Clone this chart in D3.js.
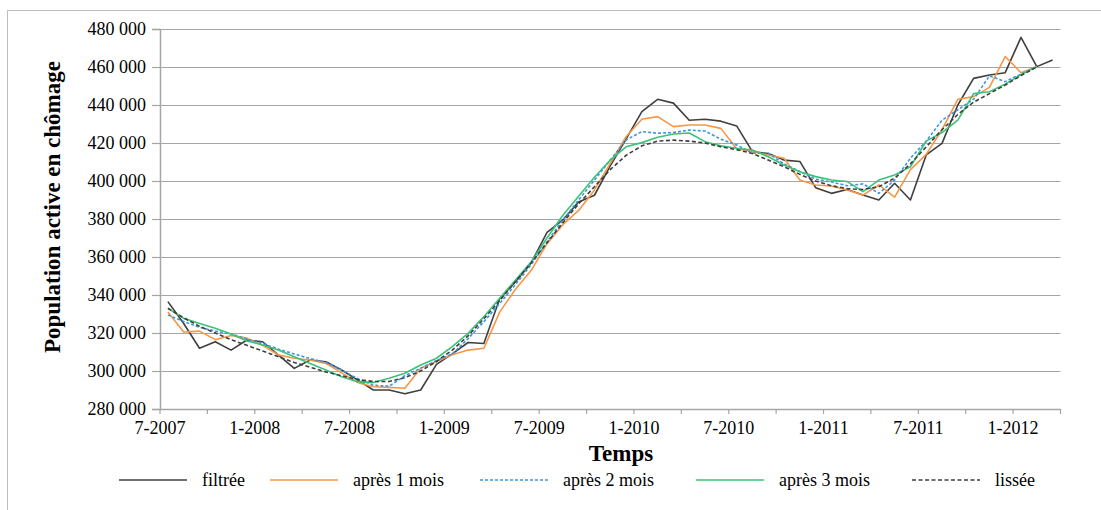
<!DOCTYPE html>
<html>
<head>
<meta charset="utf-8">
<script src="https://cdn.jsdelivr.net/npm/d3@7"></script>
<style>
  html, body { margin: 0; padding: 0; background: #ffffff; }
  svg { display: block; font-family: "Liberation Serif", "Times New Roman", serif; }
  svg text { font-family: "Liberation Serif", "Times New Roman", serif; }
</style>
</head>
<body>
<svg id="chart" width="1101" height="510"></svg>
<script>
// ---- Data ----
const months = [
  "7-2007","8-2007","9-2007","10-2007","11-2007","12-2007",
  "1-2008","2-2008","3-2008","4-2008","5-2008","6-2008",
  "7-2008","8-2008","9-2008","10-2008","11-2008","12-2008",
  "1-2009","2-2009","3-2009","4-2009","5-2009","6-2009",
  "7-2009","8-2009","9-2009","10-2009","11-2009","12-2009",
  "1-2010","2-2010","3-2010","4-2010","5-2010","6-2010",
  "7-2010","8-2010","9-2010","10-2010","11-2010","12-2010",
  "1-2011","2-2011","3-2011","4-2011","5-2011","6-2011",
  "7-2011","8-2011","9-2011","10-2011","11-2011","12-2011",
  "1-2012","2-2012","3-2012"
];
const xTickLabels = ["7-2007","1-2008","7-2008","1-2009","7-2009","1-2010","7-2010","1-2011","7-2011","1-2012"];
const yTicks = [280000,300000,320000,340000,360000,380000,400000,420000,440000,460000,480000];

const filtree = [336500,325000,312000,315400,311000,316300,315400,308400,301400,305800,304900,300500,
  295300,290000,290000,288000,290000,303500,309000,315000,314500,338000,347000,357000,
  373000,379500,389000,392500,408000,422000,436500,443000,441000,432000,432500,431500,
  429000,415500,414500,411000,410300,396500,393500,395500,392600,390000,398800,390000,
  413700,419800,440000,454000,455800,457000,475600,460200,463700];
const apres1 = [331000,320500,321000,316500,318700,317300,313500,308400,306700,305800,304000,299000,
  294000,291700,291400,290900,301400,305000,308500,311000,312000,331000,343000,353000,
  367000,377000,384500,395300,409300,423300,432500,433900,428600,429500,429500,427700,
  417000,415500,413700,412000,400500,397900,397400,395300,392600,397900,391500,406000,
  414000,427000,443000,444400,449300,465500,457000,460200];
const apres2 = [329500,326000,323000,321000,319500,316800,314500,311500,309000,306500,304500,300500,
  296000,292500,292000,297500,301500,305500,309000,317000,326000,335500,345500,356000,
  368000,379500,390000,400500,411000,421600,426000,425100,425500,426800,426300,422000,
  419000,414600,414600,409000,405000,401000,399500,397500,398500,393500,400500,412000,
  421000,432000,437500,443000,455300,452300,456300,460200];
const apres3 = [333000,327700,325000,322500,319500,315800,313700,311000,307500,304000,300500,297000,
  294400,293900,296200,298800,303200,306700,312800,319800,328600,338300,347900,357500,
  370000,382000,392000,402000,411000,418000,420200,423000,424700,425300,420700,418500,
  417200,416300,412800,408400,404900,402300,400500,399700,394400,400500,403200,407500,
  421000,425500,432000,446000,447000,451000,456000,460200];
const lissee = [333000,328000,323500,320000,316500,313500,310500,307500,304500,302000,299500,297500,
  295500,294500,294500,296500,300000,305000,311000,318500,327500,337000,347000,357000,
  367500,378000,388000,397000,406000,413500,418500,421000,421500,421000,420000,418000,
  416500,414500,411000,407500,403500,400000,397500,396000,395500,397000,401500,409000,
  418000,427000,435000,441500,446000,450500,455500,460000];

const seriesNames = ["filtrée","après 1 mois","après 2 mois","après 3 mois","lissée"];
const seriesData = [filtree, apres1, apres2, apres3, lissee];
const seriesColors = ["#3f3f3f","#f79646","#3b97e0","#3cc278","#3f3f3f"];
const seriesDash = [null, null, "3,2", null, "4,2.5"];

// ---- Layout ----
const svg = d3.select("#chart");
const plotL = 160, plotR = 1060.5, plotT = 29, plotB = 409;

svg.append("rect").attr("x",0).attr("y",0).attr("width",1101).attr("height",510).attr("fill","#fff");
svg.append("rect").attr("x",7.5).attr("y",10.5).attr("width",1110).attr("height",520)
   .attr("fill","none").attr("stroke","#bdbdbd").attr("stroke-width",1);

const x = d3.scaleBand().domain(months).range([plotL, plotR]).paddingInner(0).paddingOuter(0);
const y = d3.scaleLinear().domain([280000, 480000]).range([plotB, plotT]);
const bw = x.bandwidth();

const fr = d3.formatLocale({decimal: ",", thousands: " ", grouping: [3], currency: ["", ""]});
const fmt = fr.format(",d");

// gridlines
svg.append("g").selectAll("line").data(yTicks.filter(t => t > 280000)).join("line")
  .attr("x1", plotL).attr("x2", plotR)
  .attr("y1", d => Math.round(y(d)) + 0.5).attr("y2", d => Math.round(y(d)) + 0.5)
  .attr("stroke", "#a6a6a6").attr("stroke-width", 1.2);

// y axis
const yAxis = d3.axisLeft(y).tickValues(yTicks).tickSize(8).tickPadding(6).tickFormat(fmt);
const gy = svg.append("g").attr("transform", `translate(${plotL},0)`).call(yAxis);
gy.attr("font-family", null).attr("font-size", null);
gy.select(".domain").attr("stroke", "#a6a6a6").attr("stroke-width", 1.5);
gy.selectAll(".tick line").attr("stroke", "#a6a6a6").attr("stroke-width", 1.2);
gy.selectAll(".tick text").attr("font-size", "18px").attr("fill", "#000");

// x axis: ticks every 3 months at band boundaries, labels every 6
const tickCats = months.filter((m, i) => i % 3 === 0);
const gx = svg.append("g");
gx.append("line").attr("x1", plotL).attr("x2", plotR).attr("y1", plotB + 0.5).attr("y2", plotB + 0.5)
  .attr("stroke", "#a6a6a6").attr("stroke-width", 1.5);
const tickXs = tickCats.map(c => x(c)).concat([plotR]);
gx.selectAll("line.tk").data(tickXs).join("line").attr("class","tk")
  .attr("x1", d => d).attr("x2", d => d).attr("y1", plotB).attr("y2", plotB + 5)
  .attr("stroke", "#a6a6a6").attr("stroke-width", 1.2);
gx.selectAll("text").data(xTickLabels).join("text")
  .attr("x", d => x(d)).attr("y", plotB + 25)
  .attr("text-anchor", "middle").attr("font-size", "18px").attr("fill", "#000")
  .text(d => d);

// axis titles
svg.append("text").attr("x", 621).attr("y", 461).attr("text-anchor", "middle")
  .attr("font-size", "23px").attr("font-weight", "bold").text("Temps");
svg.append("text").attr("transform", "translate(60,207) rotate(-90)").attr("text-anchor", "middle")
  .attr("font-size", "23px").attr("font-weight", "bold").text("Population active en chômage");

// series
const line = d3.line().x((d, i) => x(months[i]) + bw / 2).y(d => y(d));
seriesData.forEach((s, k) => {
  svg.append("path").datum(s).attr("d", line)
    .attr("fill", "none").attr("stroke", seriesColors[k]).attr("stroke-width", 1.6)
    .attr("stroke-linejoin", "round")
    .attr("stroke-dasharray", seriesDash[k]);
});

// legend
const legX = [119, 270, 480, 696, 912];
const lg = svg.append("g");
seriesNames.forEach((n, k) => {
  lg.append("line").attr("x1", legX[k]).attr("x2", legX[k] + 68).attr("y1", 480).attr("y2", 480)
    .attr("stroke", seriesColors[k]).attr("stroke-width", 1.6).attr("stroke-dasharray", seriesDash[k]);
  lg.append("text").attr("x", legX[k] + 83).attr("y", 486).attr("font-size", "18px").text(n);
});
</script>
</body>
</html>
